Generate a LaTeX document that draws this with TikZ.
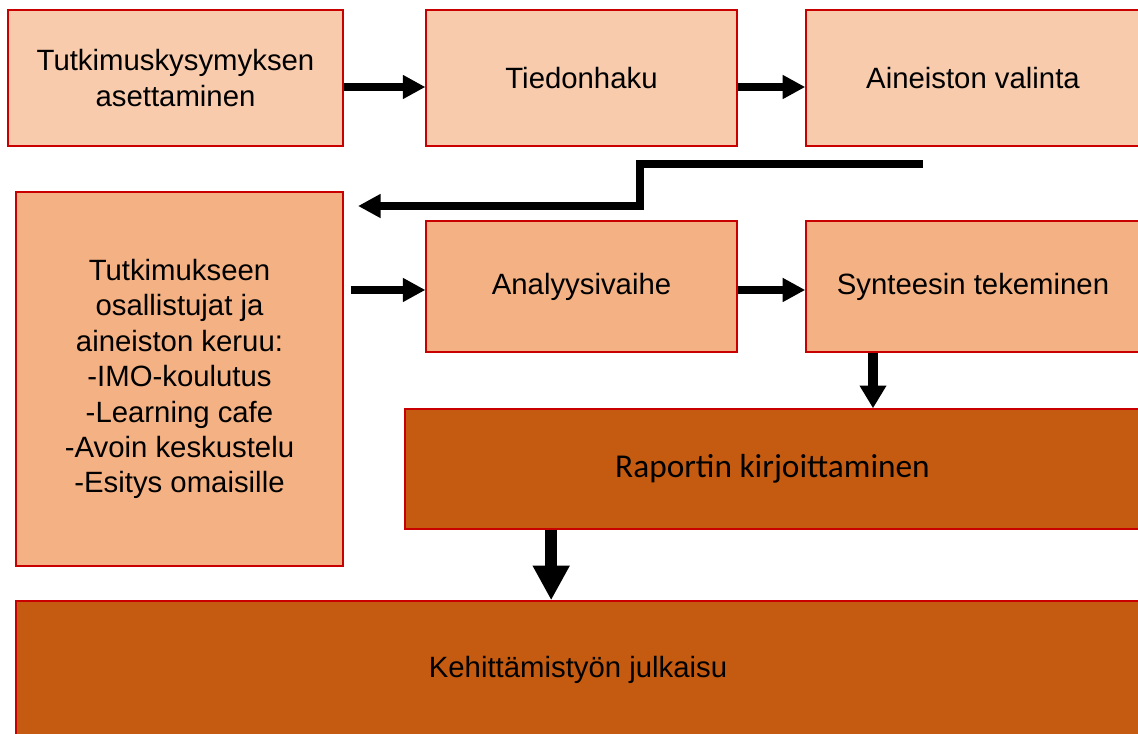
\documentclass[tikz,border=0pt]{standalone}
\usepackage{fontspec}
\setmainfont{Liberation Sans}
\newfontfamily\calibri{Carlito}
\usetikzlibrary{arrows.meta, positioning}

\definecolor{vaalea}{HTML}{F8CBAD}
\definecolor{keski}{HTML}{F4B183}
\definecolor{tumma}{HTML}{C55A11}
\definecolor{reuna}{HTML}{C80000}

\begin{document}
\begin{tikzpicture}[x=0.75pt, y=-0.75pt, line join=miter,
    vaihe/.style={draw=reuna, line width=1.1pt, inner sep=0pt, align=center,
        font=\fontsize{22}{26.6}\selectfont},
    flow/.style={draw=black, line width=6pt, -{Triangle[length=17pt, width=17pt]}}]
                \useasboundingbox (0,0) rectangle (1138,733);
                \clip (0,0) rectangle (1138,733);
                % ylarivi
                \node[vaihe, fill=vaalea, minimum width=251pt, minimum height=102pt] (kysymys) at (175.5,78) {Tutkimuskysymyksen\\asettaminen};
                \node[vaihe, fill=vaalea, minimum width=233pt, minimum height=102pt] (haku) at (581.5,78) {Tiedonhaku};
                \node[vaihe, fill=vaalea, minimum width=250.5pt, minimum height=102pt] (valinta) at (973,78) {Aineiston valinta};
                % keskirivi
                \node[vaihe, fill=keski, minimum width=245pt, minimum height=280.5pt] (keruu) at (179.5,379)
                    {Tutkimukseen\\osallistujat ja\\aineiston keruu:\\-IMO-koulutus\\-Learning cafe\\-Avoin keskustelu\\-Esitys omaisille};
                \node[vaihe, fill=keski, minimum width=233pt, minimum height=98pt] (analyysi) at (581.5,286.5) {Analyysivaihe};
                \node[vaihe, fill=keski, minimum width=250.5pt, minimum height=98pt] (synteesi) at (973,286.5) {Synteesin tekeminen};
                % alarivit
                \node[vaihe, fill=tumma, minimum width=551pt, minimum height=90pt,
                    font=\calibri\fontsize{25}{30}\selectfont] (raportti) at (772.5,469) {Raportin kirjoittaminen};
                \node[vaihe, fill=tumma, minimum width=843pt, minimum height=103.5pt] (julkaisu) at (578,670) {Kehittämistyön julkaisu};

                \coordinate (alku) at (923,164);
                \coordinate (loppu) at (358,206);

                \draw[flow] ([yshift=-6.75pt]kysymys.east) -- ([yshift=-6.75pt]haku.west);
                \draw[flow] ([yshift=-6.75pt]haku.east) -- ([yshift=-6.75pt]valinta.west);
                \draw[flow] (alku) -- ++(-283,0) |- (loppu);
                \draw[flow] ([xshift=5.25pt,yshift=-2.6pt]keruu.east |- analyysi.west) -- ([yshift=-2.6pt]analyysi.west);
                \draw[flow] ([yshift=-2.6pt]analyysi.east) -- ([yshift=-2.6pt]synteesi.west);
                \draw[flow, line width=7.5pt, -{Triangle[length=17pt, width=19pt]}]
                    ([xshift=-75pt]synteesi.south) -- ([xshift=-75pt]synteesi.south |- raportti.north);
                \draw[flow, line width=9pt, -{Triangle[length=26pt, width=26pt]}]
                    ([xshift=-166pt]raportti.south) -- ([xshift=-166pt]raportti.south |- julkaisu.north);
        \end{tikzpicture}
\end{document}
